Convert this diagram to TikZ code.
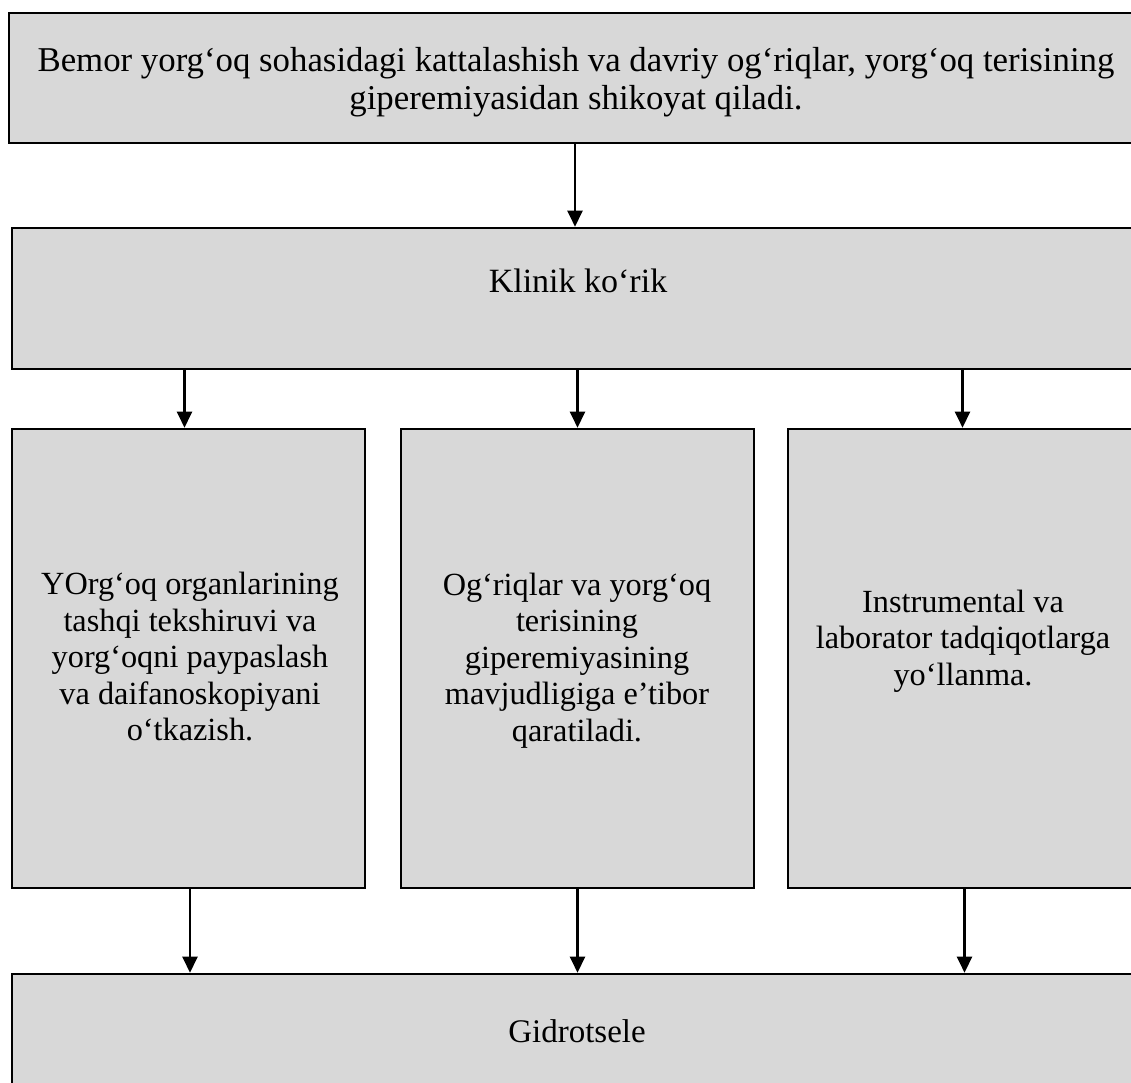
\documentclass[tikz,border=0pt]{standalone}
\usepackage{fontspec}
\setmainfont{Liberation Serif}
\usetikzlibrary{arrows.meta}
\definecolor{boxgray}{HTML}{D8D8D8}
\begin{document}
\begin{tikzpicture}[x=1pt,y=-1pt,
  box/.style={draw=black,fill=boxgray,line width=2.6pt,inner sep=0pt,rectangle},
  txt/.style={inner sep=0pt,align=center,font=\fontsize{32.3}{36.5}\selectfont},
  arr/.style={line width=2.3pt,-{Triangle[width=15pt,length=16pt]}}]
\useasboundingbox (0,0) rectangle (1131,1082);
\clip (0,0) rectangle (1131,1082);
\fill[white] (0,0) rectangle (1131,1082);
% boxes
\node[box,minimum width=1132pt,minimum height=130pt] (top) at (575,78) {};
\node[box,minimum width=1130pt,minimum height=141pt] (klinik) at (577,298.5) {};
\node[box,minimum width=353pt,minimum height=459pt] (b1) at (188.5,658.5) {};
\node[box,minimum width=353pt,minimum height=459pt] (b2) at (577.5,658.5) {};
\node[box,minimum width=353pt,minimum height=459pt] (b3) at (964.5,658.5) {};
\node[box,minimum width=1130pt,minimum height=141pt] (bottom) at (577,1044.5) {};
% texts
\node[txt,font=\fontsize{34.8}{38}\selectfont] (ttop) at (576,82) {Bemor yorg‘oq sohasidagi kattalashish va davriy og‘riqlar, yorg‘oq terisining\\giperemiyasidan shikoyat qiladi.};
\node[txt,anchor=base,font=\fontsize{34}{38}\selectfont] (tklinik) at (578,292) {Klinik ko‘rik};
\node[txt] (tb1) at (190,657) {YOrg‘oq organlarining\\tashqi tekshiruvi va\\yorg‘oqni paypaslash\\va daifanoskopiyani\\o‘tkazish.};
\node[txt] (tb2) at (577,660.5) {Og‘riqlar va yorg‘oq\\terisining\\giperemiyasining\\mavjudligiga e’tibor\\qaratiladi.};
\node[txt] (tb3) at (963,641) {Instrumental va\\laborator tadqiqotlarga\\yo‘llanma.};
\node[txt,anchor=base,font=\fontsize{33}{38}\selectfont] (tbottom) at (577,1042) {Gidrotsele};
% arrows
\draw[arr] (top.south) -- (top.south |- klinik.north);
\draw[arr] ([xshift=-4pt]b1.north |- klinik.south) -- ([xshift=-4pt]b1.north);
\draw[arr] (klinik.south -| b2.north) -- (b2.north);
\draw[arr] ([xshift=-2pt]b3.north |- klinik.south) -- ([xshift=-2pt]b3.north);
\draw[arr] ([xshift=1.5pt]b1.south) -- ([xshift=1.5pt]b1.south |- bottom.north);
\draw[arr] (b2.south) -- (b2.south |- bottom.north);
\draw[arr] (b3.south) -- (b3.south |- bottom.north);
\end{tikzpicture}
\end{document}
